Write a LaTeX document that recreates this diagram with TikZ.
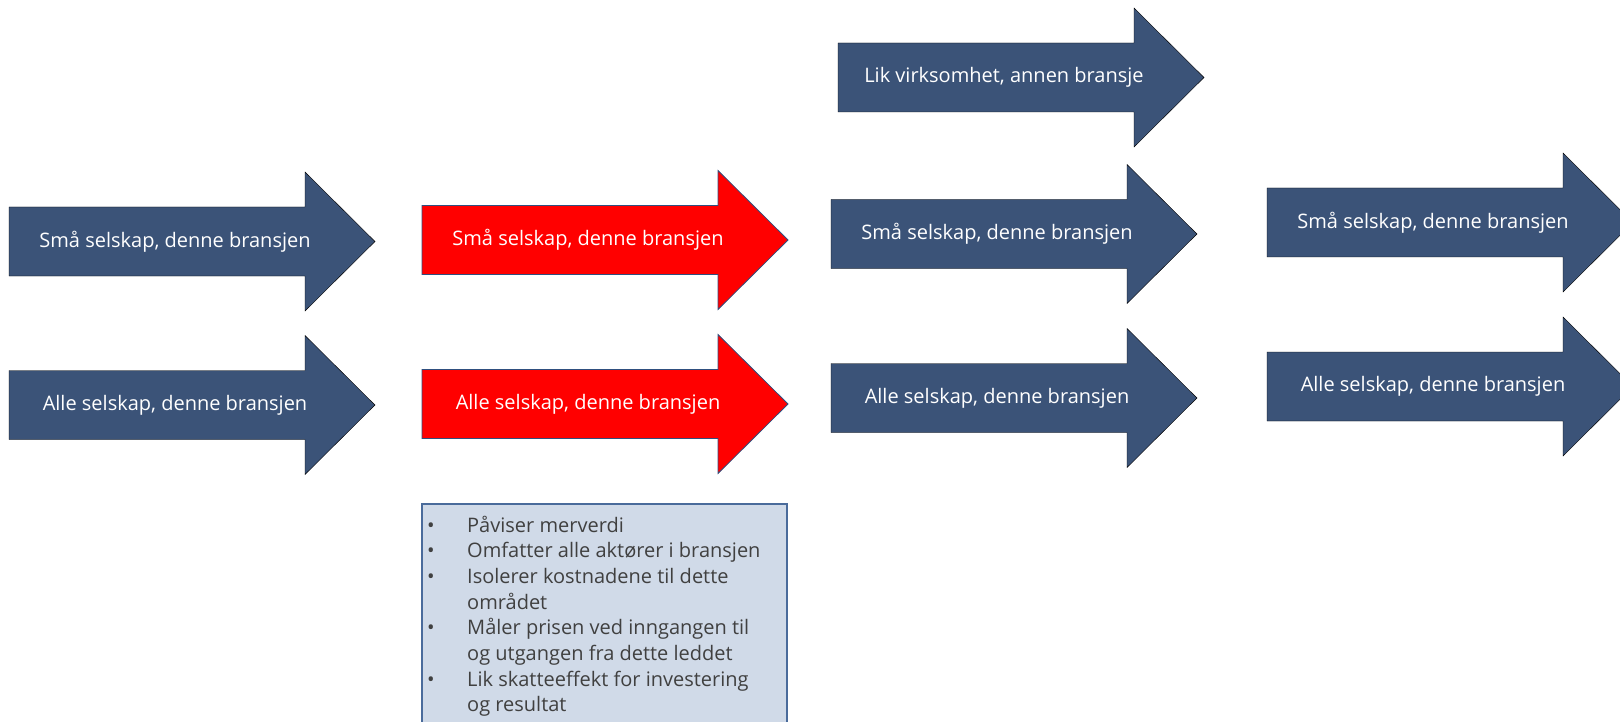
\documentclass[tikz,border=0pt]{standalone}
\usepackage{fontspec}
\setmainfont{Open Sans}
\definecolor{arrowblue}{HTML}{3B5378}
\definecolor{arrowedge}{HTML}{2F4F7F}
\definecolor{notefill}{HTML}{D0DAE8}
\definecolor{noteedge}{HTML}{4A6B9B}
\definecolor{notetext}{HTML}{404040}
\tikzset{
  bluearrow/.style={fill=arrowblue},
  redarrow/.style={fill=red, draw=arrowedge, line width=0.8pt},
  arrowtext/.style={text=white, font=\fontsize{20}{24}\selectfont, inner sep=0pt},
  notebox/.style={fill=notefill, draw=noteedge, line width=1.2pt},
}

\begin{document}
\begin{tikzpicture}[x=1pt,y=-1pt]
\clip (0,0) rectangle (1620,722);

% arrows: left end / centre line / style / name / text
\foreach \x/\y/\s/\n/\t in {
  9/241.5/bluearrow/small1/{Små selskap, denne bransjen},
  9/405/bluearrow/all1/{Alle selskap, denne bransjen},
  422/240/redarrow/small2/{Små selskap, denne bransjen},
  422/404/redarrow/all2/{Alle selskap, denne bransjen},
  838/77.5/bluearrow/other3/{Lik virksomhet, annen bransje},
  831/234/bluearrow/small3/{Små selskap, denne bransjen},
  831/398/bluearrow/all3/{Alle selskap, denne bransjen},
  1267/222.5/bluearrow/small4/{Små selskap, denne bransjen},
  1267/386.5/bluearrow/all4/{Alle selskap, denne bransjen}}
{
  \draw[\s] (\x,\y-34.5) -- (\x+296,\y-34.5) -- (\x+296,\y-69.5) -- (\x+366,\y)
    -- (\x+296,\y+69.5) -- (\x+296,\y+34.5) -- (\x,\y+34.5) -- cycle;
  \node[arrowtext] (\n) at (\x+166,\y) {\t};
}

% note under the red arrows
\draw[notebox] (422,504) rectangle (787,740);
\node[anchor=base west, inner sep=0pt, text=notetext, font=\fontsize{20}{25.7}\selectfont] (notes) at (427,532) {%
\begin{tabular}[t]{@{}p{40pt}@{}l@{}}
• & Påviser merverdi\\
• & Omfatter alle aktører i bransjen\\
• & Isolerer kostnadene til dette\\
  & området\\
• & Måler prisen ved inngangen til\\
  & og utgangen fra dette leddet\\
• & Lik skatteeffekt for investering\\
  & og resultat
\end{tabular}};

\end{tikzpicture}
\end{document}
